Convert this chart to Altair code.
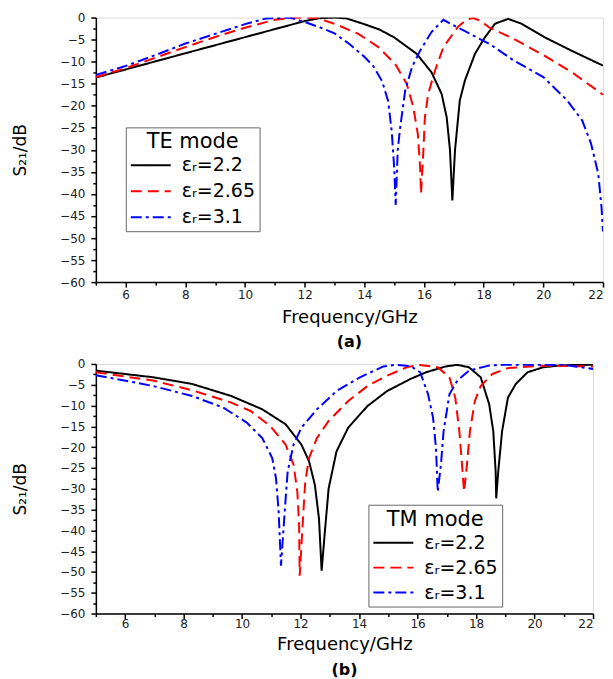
import altair as alt
import pandas as pd

series_labels = ["εᵣ=2.2", "εᵣ=2.65", "εᵣ=3.1"]
series_colors = ["#000000", "#FF0000", "#0000FF"]
series_dashes = [[1, 0], [11, 6], [11, 4, 3, 4]]

# ---- TE mode (a) ----
te_22_f = [5, 8, 12.0, 12.5, 13.0, 13.4, 14.0, 14.5, 15.0, 15.75, 16.25, 16.59, 16.76, 16.87, 16.95,
           17.04, 17.2, 17.37, 17.71, 18.04, 18.38, 18.82, 19.27, 20.05, 21.0, 22.0]
te_22_db = [-13.6, -8.1, -0.8, -0.15, 0, -0.2, -1.5, -2.7, -4.5, -8.2, -12.4, -17.3, -22.6, -30, -41.5,
            -30, -18.8, -14.3, -8.2, -4.5, -1.4, -0.3, -1.4, -4.5, -7.7, -10.9]

te_265_f = [5, 6, 7, 8, 9, 10, 11, 11.8, 12.4, 13.0, 13.8, 14.47, 15.03, 15.42, 15.64, 15.79, 15.87, 15.9,
            15.98, 16.03, 16.14, 16.37, 16.65, 17.15, 17.45, 17.65, 17.9, 18.2, 19.0, 20.0, 21.0, 22.0]
te_265_db = [-13.5, -11.5, -9.1, -6.7, -4.4, -2.3, -0.5, 0, -0.1, -1.4, -3.7, -6.7, -10.5, -15, -20.3, -26.3, -34, -40,
             -30, -22.6, -17.3, -12, -6.7, -2.0, -0.4, -0.1, -0.8, -2.3, -4.8, -8.5, -12.6, -17.5]

te_31_f = [5, 6, 7, 8, 9, 10, 10.7, 11.5, 12.0, 12.5, 13.0, 13.5, 14.0, 14.3, 14.6, 14.8, 14.92, 15.0, 15.05,
           15.12, 15.2, 15.37, 15.6, 15.87, 16.25, 16.65, 17.0, 18.2, 19.0, 20.0, 20.8, 21.3, 21.6, 21.84, 21.95, 22.0]
te_31_db = [-13.0, -11.0, -8.5, -5.9, -3.7, -1.5, -0.2, 0, -1.0, -2.2, -3.6, -6.0, -8.9, -11, -14.5, -19, -26, -34, -42.5,
            -30, -25, -16.5, -11.2, -7.5, -3.3, -0.5, -1.8, -6.0, -9.7, -13.5, -18.8, -23.3, -28.6, -35.4, -43, -48.5]

# ---- TM mode (b) ----
tm_22_f = [5, 6.96, 8.29, 9.63, 10.69, 11.49, 12.03, 12.29, 12.49, 12.63, 12.72, 12.83, 12.96, 13.23, 13.63, 14.29,
           14.96, 15.76, 16.29, 16.96, 17.36, 17.76, 18.16, 18.45, 18.59, 18.67, 18.69, 18.76, 18.89, 19.09, 19.36,
           19.76, 20.29, 20.96, 22.0]
tm_22_db = [-1.6, -3.2, -4.8, -7.7, -10.9, -14.5, -19.4, -23.4, -29.1, -37.2, -49.7, -40.4, -29.9, -21, -15.3, -10.1,
            -6.5, -3.6, -2.0, -0.6, -0.2, -0.8, -3.2, -9.7, -16.2, -25.8, -32.3, -25.8, -16.2, -8.1, -4.8,
            -2.0, -0.8, -0.3, -0.2]

tm_265_f = [5, 6.96, 8.29, 9.63, 10.29, 10.96, 11.49, 11.76, 11.89, 11.95, 11.97, 12.09, 12.16, 12.29, 12.56, 12.96,
            13.63, 14.29, 14.96, 15.63, 16.03, 16.69, 17.09, 17.29, 17.43, 17.52, 17.59, 17.69, 17.79, 17.96, 18.16,
            18.56, 19.09, 20.29, 22.0]
tm_265_db = [-2.0, -4.0, -6.3, -9.3, -11.3, -14.9, -19.4, -24.2, -30.7, -38.8, -50.9, -36.3, -28.3, -22.6, -17.8, -13.7,
             -8.9, -5.3, -2.8, -0.8, -0.2, -0.8, -3.2, -8.1, -16.2, -24.2, -30.7, -24.2, -16.2, -8.9, -5.3,
             -2.4, -1.0, -0.4, -0.6]

tm_31_f = [5, 6.96, 8.29, 9.36, 10.16, 10.69, 11.03, 11.16, 11.25, 11.33, 11.49, 11.56, 11.76, 12.03, 12.56, 13.23,
           14.03, 14.83, 15.23, 15.76, 16.09, 16.36, 16.53, 16.63, 16.69, 16.8, 16.89, 17.09, 17.36, 17.76, 18.43,
           18.96, 20.96, 22.0]
tm_31_db = [-2.7, -5.3, -7.7, -10.5, -14.1, -17.8, -22.6, -27.5, -35.5, -48.5, -32.3, -25.8, -19.4, -15.3, -10.9, -6.5,
            -3.2, -0.6, -0.2, -0.5, -2.0, -7.3, -12.9, -20.2, -30.7, -24.2, -16.2, -7.3, -4.0, -1.6, -0.4,
            -0.2, -0.2, -1.2]


def frame(pairs):
    rows = []
    for label, fs, dbs in pairs:
        for i, (f, d) in enumerate(zip(fs, dbs)):
            rows.append({"series": label, "f": f, "db": d, "idx": i})
    return pd.DataFrame(rows)


te_df = frame([(series_labels[0], te_22_f, te_22_db),
               (series_labels[1], te_265_f, te_265_db),
               (series_labels[2], te_31_f, te_31_db)])
tm_df = frame([(series_labels[0], tm_22_f, tm_22_db),
               (series_labels[1], tm_265_f, tm_265_db),
               (series_labels[2], tm_31_f, tm_31_db)])

x_ticks = list(range(5, 23))
y_ticks = [-60 + 2.5 * i for i in range(25)]
FONT = "DejaVu Sans"


def panel(df, letter, mode_title, w, h, lx, ly, xlab_pad, xtitle_pad, letter_off, row_pad):
    leg = alt.Legend(
        title=mode_title, orient="none", legendX=lx, legendY=ly,
        symbolType="M-1,0L3,0", symbolSize=400, symbolStrokeWidth=2,
        symbolFillColor="transparent",
        labelFontSize=19, titleFontSize=21, titleFontWeight="normal",
        titleAnchor="middle", titleColor="black", labelColor="black",
        labelFont=FONT, titleFont=FONT,
        fillColor="white", strokeColor="#666666", padding=4, rowPadding=row_pad,
        titlePadding=2, labelOffset=30,
    )
    xaxis = alt.Axis(
        title="Frequency/GHz", values=x_ticks,
        labelExpr="datum.value % 2 === 0 ? datum.label : ''",
        tickSize={"condition": {"test": "datum.value % 2 === 0", "value": 5}, "value": 3},
        labelFontSize=12, titleFontSize=18, titleFontWeight="normal",
        labelPadding=xlab_pad, titlePadding=xtitle_pad, grid=False, labelFlush=True,
        domainColor="black", domainWidth=1.5, tickColor="black", tickWidth=1.5,
        labelColor="#222222", titleColor="black",
        labelFont=FONT, titleFont=FONT,
    )
    yaxis = alt.Axis(
        title="S₂₁/dB", values=y_ticks,
        labelExpr="datum.value % 5 === 0 ? datum.label : ''",
        tickSize={"condition": {"test": "datum.value % 5 === 0", "value": 5}, "value": 3},
        labelFontSize=12, titleFontSize=17, titleFontWeight="normal",
        labelPadding=6, titlePadding=30, grid=False, labelFlush=False,
        domainColor="black", domainWidth=1.5, tickColor="black", tickWidth=1.5,
        labelColor="#222222", titleColor="black",
        labelFont=FONT, titleFont=FONT,
    )
    return alt.Chart(df).mark_line(strokeWidth=2, clip=True).encode(
        x=alt.X("f:Q", scale=alt.Scale(domain=[5, 22], nice=False, zero=False), axis=xaxis),
        y=alt.Y("db:Q", scale=alt.Scale(domain=[-60, 0], nice=False, zero=False), axis=yaxis),
        color=alt.Color("series:N", scale=alt.Scale(domain=series_labels, range=series_colors), legend=leg),
        strokeDash=alt.StrokeDash("series:N", scale=alt.Scale(domain=series_labels, range=series_dashes), legend=leg),
        order="idx:Q",
    ).properties(
        width=w, height=h,
        title=alt.TitleParams(letter, orient="bottom", fontSize=16, fontWeight="bold",
                              font=FONT, offset=letter_off, color="black"),
    )


top = panel(te_df, "(a)", "TE mode", 508, 265, 30, 110, 2, 8, 8, 5)
bottom = panel(tm_df, "(b)", "TM mode", 498, 250, 273, 141, 0, 6, 9, 4)

chart = alt.vconcat(top, bottom, spacing=6).resolve_scale(
    color="independent", strokeDash="independent"
).resolve_legend(color="independent", strokeDash="independent").properties(
    padding={"left": 3, "top": 2, "right": 0, "bottom": 0}
).configure_view(stroke="black", strokeWidth=1.5).configure(background="white")

chart.save("out.html", embed_options={"renderer": "svg", "actions": False})
